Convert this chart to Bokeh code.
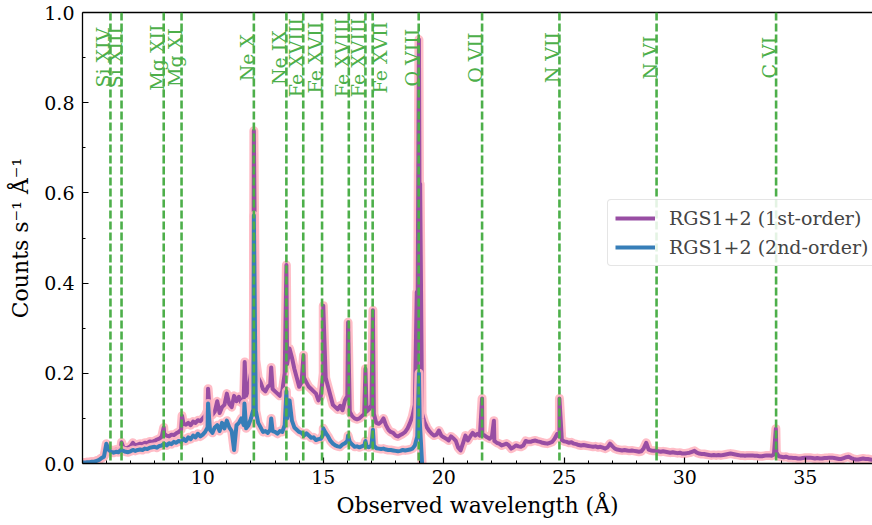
import numpy as np
from bokeh.plotting import figure
from bokeh.models import (ColumnDataSource, FixedTicker, NumeralTickFormatter, LinearAxis,
                          Legend, LegendItem, Range1d, Span)
from bokeh.core.properties import value
from bokeh.embed import file_html
from bokeh.resources import INLINE

FONT = "DejaVu Serif"
PURPLE = "#984ea3"
BLUE = "#377eb8"
GREEN = "#4daf4a"
PINK = "#ffb6c1"

# ---------------- data ----------------
WL_START = 5.0   # Angstrom, first bin
WL_STEP = 0.1    # Angstrom, bin width

# RGS1+2 first order, counts s^-1 A^-1, bins from 5.0 to 37.8 A
counts_1st = [
    0.002, 0.002, 0.003, 0.003, 0.004, 0.004, 0.006, 0.008, 0.012, 0.016,
    0.030, 0.028, 0.030, 0.028, 0.031, 0.030, 0.034, 0.036, 0.033, 0.035,
    0.038, 0.046, 0.040, 0.042, 0.044, 0.043, 0.046, 0.045, 0.049, 0.048,
    0.050, 0.053, 0.055, 0.060, 0.066, 0.062, 0.060, 0.064, 0.063, 0.067,
    0.070, 0.075, 0.088, 0.086, 0.090, 0.085, 0.093, 0.090, 0.096, 0.094,
    0.100, 0.106, 0.118, 0.112, 0.108, 0.115, 0.138, 0.112, 0.125, 0.130,
    0.155, 0.132, 0.125, 0.150, 0.138, 0.148, 0.135, 0.145, 0.150, 0.165,
    0.200, 0.230, 0.230, 0.190, 0.180, 0.165, 0.160, 0.170, 0.175, 0.165,
    0.160, 0.155, 0.150, 0.160, 0.200, 0.220, 0.255, 0.235, 0.210, 0.190,
    0.170, 0.180, 0.190, 0.180, 0.170, 0.165, 0.160, 0.155, 0.140, 0.150,
    0.200, 0.190, 0.170, 0.150, 0.130, 0.125, 0.120, 0.128, 0.118, 0.140,
    0.150, 0.115, 0.105, 0.100, 0.098, 0.100, 0.105, 0.110, 0.115, 0.120,
    0.130, 0.110, 0.090, 0.088, 0.092, 0.100, 0.085, 0.075, 0.070, 0.068,
    0.062, 0.060, 0.063, 0.066, 0.070, 0.078, 0.090, 0.105, 0.130, 0.180,
    0.500, 0.110, 0.092, 0.080, 0.072, 0.066, 0.062, 0.064, 0.073, 0.062,
    0.058, 0.055, 0.051, 0.060, 0.056, 0.050, 0.035, 0.029, 0.045, 0.062,
    0.051, 0.060, 0.068, 0.062, 0.066, 0.062, 0.065, 0.062, 0.058, 0.055,
    0.060, 0.050, 0.046, 0.044, 0.040, 0.042, 0.044, 0.040, 0.033, 0.036,
    0.040, 0.038, 0.037, 0.040, 0.050, 0.048, 0.048, 0.050, 0.051, 0.049,
    0.048, 0.046, 0.045, 0.044, 0.046, 0.048, 0.055, 0.065, 0.060, 0.052,
    0.049, 0.048, 0.046, 0.047, 0.044, 0.043, 0.041, 0.040, 0.041, 0.040,
    0.039, 0.038, 0.037, 0.038, 0.036, 0.037, 0.035, 0.033, 0.036, 0.044,
    0.038, 0.033, 0.031, 0.030, 0.029, 0.030, 0.029, 0.028, 0.029, 0.028,
    0.027, 0.026, 0.027, 0.034, 0.046, 0.031, 0.029, 0.028, 0.028, 0.027,
    0.026, 0.027, 0.026, 0.025, 0.024, 0.025, 0.024, 0.023, 0.024, 0.022,
    0.022, 0.023, 0.024, 0.026, 0.028, 0.024, 0.022, 0.021, 0.021, 0.020,
    0.019, 0.018, 0.019, 0.018, 0.019, 0.018, 0.019, 0.020, 0.021, 0.022,
    0.021, 0.020, 0.019, 0.018, 0.018, 0.017, 0.018, 0.018, 0.018, 0.017,
    0.017, 0.016, 0.016, 0.017, 0.018, 0.018, 0.017, 0.020, 0.025, 0.016,
    0.015, 0.014, 0.015, 0.013, 0.013, 0.012, 0.012, 0.011, 0.011, 0.012,
    0.013, 0.013, 0.013, 0.012, 0.011, 0.012, 0.011, 0.011, 0.012, 0.012,
    0.013, 0.013, 0.012, 0.011, 0.010, 0.010, 0.012, 0.014, 0.015, 0.012,
    0.010, 0.009, 0.009, 0.010, 0.011, 0.010, 0.010, 0.009, 0.008,
]
# narrow emission-line peaks in the first-order spectrum
peaks_1st_wl = [6.63, 8.38, 9.14, 10.22, 11.74, 12.12, 12.84, 13.47, 14.18, 15.00,
                16.03, 16.75, 17.06, 18.88, 18.97, 19.02, 21.59, 22.08, 24.80, 33.78]
peaks_1st_val = [0.047, 0.080, 0.106, 0.166, 0.225, 0.738, 0.213, 0.440, 0.240, 0.350,
                 0.313, 0.210, 0.340, 0.380, 0.940, 0.620, 0.144, 0.095, 0.144, 0.077]

# RGS1+2 second order, bins from 5.0 to 19.1 A
counts_2nd = [
    0.002, 0.002, 0.003, 0.003, 0.004, 0.004, 0.006, 0.008, 0.012, 0.015,
    0.044, 0.030, 0.026, 0.024, 0.026, 0.025, 0.030, 0.028, 0.026, 0.025,
    0.027, 0.030, 0.028, 0.030, 0.031, 0.030, 0.033, 0.032, 0.035, 0.036,
    0.037, 0.035, 0.039, 0.040, 0.044, 0.040, 0.045, 0.043, 0.048, 0.046,
    0.050, 0.048, 0.055, 0.050, 0.058, 0.054, 0.062, 0.058, 0.066, 0.060,
    0.064, 0.070, 0.080, 0.075, 0.068, 0.080, 0.085, 0.072, 0.090, 0.078,
    0.095, 0.080, 0.072, 0.030, 0.085, 0.090, 0.100, 0.085, 0.078, 0.085,
    0.100, 0.120, 0.117, 0.090, 0.080, 0.070, 0.072, 0.068, 0.075, 0.072,
    0.070, 0.066, 0.072, 0.070, 0.085, 0.100, 0.140, 0.095, 0.080, 0.075,
    0.070, 0.068, 0.062, 0.067, 0.062, 0.057, 0.058, 0.052, 0.054, 0.055,
    0.065, 0.068, 0.060, 0.050, 0.044, 0.040, 0.038, 0.037, 0.042, 0.045,
    0.050, 0.048, 0.042, 0.037, 0.038, 0.036, 0.038, 0.040, 0.038, 0.036,
    0.040, 0.040, 0.034, 0.033, 0.032, 0.033, 0.031, 0.030, 0.030, 0.029,
    0.028, 0.027, 0.028, 0.030, 0.029, 0.030, 0.031, 0.033, 0.040, 0.060,
    0.100, 0.000,
]
peaks_2nd_wl = [10.22, 11.73, 12.12, 12.84, 13.47, 15.00, 16.03, 16.75, 17.06, 18.97]
peaks_2nd_val = [0.133, 0.133, 0.550, 0.100, 0.160, 0.078, 0.062, 0.050, 0.075, 0.200]

# identified lines (observed wavelength, A)
ion_wl = [6.17, 6.63, 8.38, 9.12, 12.12, 13.47, 14.17, 14.95, 16.06, 16.75, 17.05,
          18.96, 21.59, 24.80, 28.83, 33.79]
ion_names = ["Si XIV", "Si XIII", "Mg XII", "Mg XI", "Ne X", "Ne IX", "Fe XVIII",
             "Fe XVII", "Fe XVIII", "Fe XVIII", "Fe XVII", "O VIII", "O VII",
             "N VII", "N VI", "C VI"]
label_dx = [-7, -7, -7, -7, -7, -7, -7, -7, -7, -7, 7, -7, -7, -7, -7, -7]  # px nudges

x_ticks = [10, 15, 20, 25, 30, 35]
x_minor = [6, 7, 8, 9, 11, 12, 13, 14, 16, 17, 18, 19, 21, 22, 23, 24, 26, 27, 28, 29,
           31, 32, 33, 34, 36, 37]
y_ticks = [0.0, 0.2, 0.4, 0.6, 0.8, 1.0]
y_minor = [0.1, 0.3, 0.5, 0.7, 0.9]


def merge(cont, pk_wl, pk_val):
    grid = np.round(WL_START + WL_STEP * np.arange(len(cont)), 3)
    wl = np.concatenate([grid, np.array(pk_wl, float)])
    v = np.concatenate([np.array(cont, float), np.array(pk_val, float)])
    o = np.argsort(wl, kind="stable")
    return wl[o], v[o]


wl1, v1 = merge(counts_1st, peaks_1st_wl, peaks_1st_val)
wl2, v2 = merge(counts_2nd, peaks_2nd_wl, peaks_2nd_val)
s1 = ColumnDataSource(dict(x=wl1, y=v1))
s2 = ColumnDataSource(dict(x=wl2, y=v2))

# ---------------- figure ----------------
p = figure(width=872, height=525, output_backend="svg", toolbar_location=None,
           x_range=Range1d(5.01, 37.79), y_range=Range1d(0.0, 1.0),
           min_border_left=82, min_border_right=0, min_border_top=12,
           min_border_bottom=62)
p.outline_line_color = None
p.grid.visible = False
p.background_fill_color = "white"
p.border_fill_color = "white"

p.line("x", "y", source=s1, line_color=PINK, line_width=9, line_alpha=0.9, line_join="round")
r1 = p.line("x", "y", source=s1, line_color=PURPLE, line_width=4, line_join="round")
p.line("x", "y", source=s2, line_color=PINK, line_width=9, line_alpha=0.9, line_join="round")
r2 = p.line("x", "y", source=s2, line_color=BLUE, line_width=4, line_join="round")

for w in ion_wl:
    p.add_layout(Span(location=w, dimension="height", line_color=GREEN,
                      line_width=2.6, line_dash="8 3"))

lab = ColumnDataSource(dict(x=ion_wl, text=ion_names, dx=label_dx))
p.text(x="x", y=0.9, text="text", source=lab, angle=np.pi / 2, x_offset="dx",
       text_align="center", text_baseline="alphabetic", text_color=GREEN,
       text_font=value(FONT), text_font_size="19px")

# axes
xa = p.xaxis[0]
ya = p.yaxis[0]
xa.ticker = FixedTicker(ticks=x_ticks, minor_ticks=x_minor)
ya.ticker = FixedTicker(ticks=y_ticks, minor_ticks=y_minor)
ya.formatter = NumeralTickFormatter(format="0.0")
xa.axis_label = "Observed wavelength (Å)"
ya.axis_label = "Counts s⁻¹ Å⁻¹"
for ax in (xa, ya):
    ax.major_tick_in = 6
    ax.major_tick_out = 0
    ax.minor_tick_in = 3
    ax.minor_tick_out = 0
    ax.axis_line_width = 1.3
    ax.major_tick_line_width = 1.2
    ax.minor_tick_line_width = 1.0
    ax.axis_line_color = "black"
    ax.major_tick_line_color = "black"
    ax.minor_tick_line_color = "black"
    ax.major_label_text_font = FONT
    ax.major_label_text_font_size = "19px"
    ax.major_label_text_color = "black"
    ax.axis_label_text_font = FONT
    ax.axis_label_text_font_size = "22px"
    ax.axis_label_text_font_style = "normal"
    ax.axis_label_text_color = "black"
xa.major_label_standoff = 6
xa.axis_label_standoff = 6
ya.major_label_standoff = 8
ya.axis_label_standoff = 8

top = LinearAxis(ticker=FixedTicker(ticks=[]), major_label_text_font_size="0px",
                 major_tick_in=0, major_tick_out=0, minor_tick_in=0, minor_tick_out=0,
                 axis_line_color="black", axis_line_width=1.3)
p.add_layout(top, "above")

legend = Legend(items=[LegendItem(label="RGS1+2 (1st-order)", renderers=[r1]),
                       LegendItem(label="RGS1+2 (2nd-order)", renderers=[r2])],
                location=(525, 197))
legend.label_text_font = FONT
legend.label_text_font_size = "19px"
legend.glyph_width = 40
legend.glyph_height = 20
legend.label_height = 20
legend.label_standoff = 14
legend.spacing = 7
legend.padding = 7
legend.margin = 0
legend.border_line_color = "#cccccc"
legend.border_line_width = 1
legend.border_radius = 4
legend.background_fill_alpha = 0.85
p.add_layout(legend)

open("out.html", "w").write(file_html(p, INLINE))
